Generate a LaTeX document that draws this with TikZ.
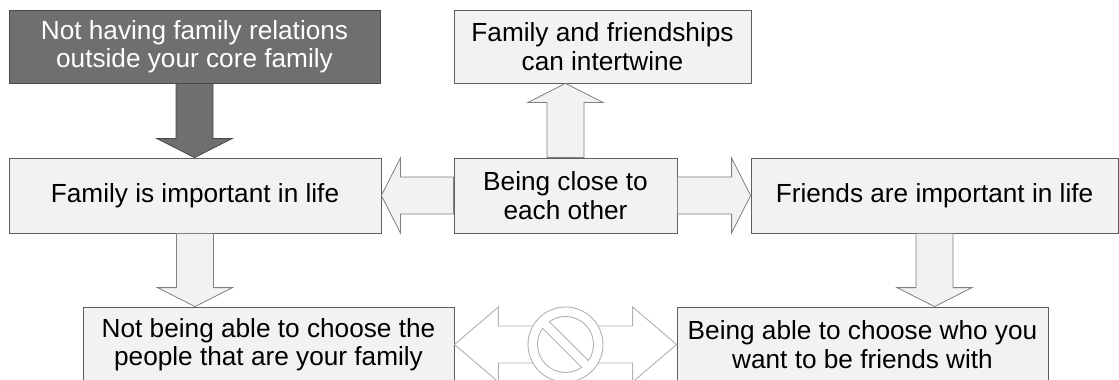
\documentclass[tikz,border=0pt]{standalone}
\usepackage{fontspec}
\setmainfont{Liberation Sans}
\usetikzlibrary{calc}

\definecolor{boxfill}{HTML}{F2F2F2}
\definecolor{boxline}{HTML}{5E5E5E}
\definecolor{arrline}{HTML}{808080}
\definecolor{darkfill}{HTML}{6F6F6F}
\definecolor{darkline}{HTML}{4A4A4A}
\definecolor{faint}{HTML}{B2B2B2}

\begin{document}
\begin{tikzpicture}[x=1pt, y=-1pt,
        box/.style={draw=boxline, fill=boxfill, line width=0.8pt, inner sep=0pt,
            minimum height=75pt, align=center, font=\fontsize{26.2}{28.5}\selectfont},
        arr/.style={draw=arrline, fill=boxfill, line width=0.8pt, to path={
            let \p1=(\tikztostart), \p2=(\tikztotarget),
                \n1={atan2(\y2-\y1,\x2-\x1)}, \p3=($(\p2)!19pt!(\p1)$) in
            ($(\p1)+(\n1+90:18.5pt)$) -- ($(\p3)+(\n1+90:18.5pt)$)
            -- ($(\p3)+(\n1+90:37.5pt)$) -- (\p2) -- ($(\p3)+(\n1-90:37.5pt)$)
            -- ($(\p3)+(\n1-90:18.5pt)$) -- ($(\p1)+(\n1-90:18.5pt)$) -- cycle}},
        twoarr/.style={draw=faint, fill=white, line width=0.9pt, to path={
            let \p1=(\tikztostart), \p2=(\tikztotarget),
                \n1={atan2(\y2-\y1,\x2-\x1)},
                \p3=($(\p2)!44pt!(\p1)$), \p4=($(\p1)!44pt!(\p2)$) in
            ($(\p4)+(\n1+90:18.5pt)$) -- ($(\p3)+(\n1+90:18.5pt)$)
            -- ($(\p3)+(\n1+90:37.5pt)$) -- (\p2) -- ($(\p3)+(\n1-90:37.5pt)$)
            -- ($(\p3)+(\n1-90:18.5pt)$) -- ($(\p4)+(\n1-90:18.5pt)$)
            -- ($(\p4)+(\n1-90:37.5pt)$) -- (\p1) -- ($(\p4)+(\n1+90:37.5pt)$) -- cycle}}]
    \useasboundingbox (0,0) rectangle (1119,380);
    % top row
    \node[box, fill=darkfill, draw=darkline, text=white, minimum width=371pt, minimum height=73pt] (A) at (194.5, 46.5) {Not having family relations\\outside your core family};
    \node[box, minimum width=297pt, minimum height=73pt] (B) at (602.5, 46.5) {Family and friendships\\can intertwine};
    % middle row
    \node[box, minimum width=372pt] (C) at (195, 195.5) {Family is important in life};
    \node[box, minimum width=223pt] (D) at (565.5, 195.5) {Being close to\\each other};
    \node[box, minimum width=367pt] (E) at (934.5, 195.5) {Friends are important in life};
    % bottom row
    \node[box, minimum width=371pt] (F) at (268.5, 344.5) {Not being able to choose the\\people that are your family};
    \node[box, minimum width=371pt] (G) at (862.5, 344.5) {Being able to choose who you\\want to be friends with};
    % block arrows
    \draw[arr, fill=darkfill, draw=darkline] (A.south) to (A.south |- C.north);
    \draw[arr] (D.north) to (D.north |- B.south);
    \draw[arr] (D.west) to (C.east);
    \draw[arr] (D.east) to (E.west);
    \draw[arr] (C.south) to (C.south |- F.north);
    \draw[arr] (E.south) to (E.south |- G.north);
    % crossed out link
    \draw[twoarr] (F.east) to (G.west);
    \coordinate (N) at ($(F.east)!0.5!(G.west)$);
    \draw[draw=faint, fill=white, line width=0.9pt] (N) circle[radius=37.5pt];
    \begin{scope}[shift={(N)}, rotate=-45, draw=faint, line width=0.9pt]
        \draw (9.8:28pt) arc[start angle=9.8, end angle=170.2, radius=28pt] -- cycle;
        \draw (-9.8:28pt) arc[start angle=-9.8, end angle=-170.2, radius=28pt] -- cycle;
    \end{scope}
\end{tikzpicture}
\end{document}
